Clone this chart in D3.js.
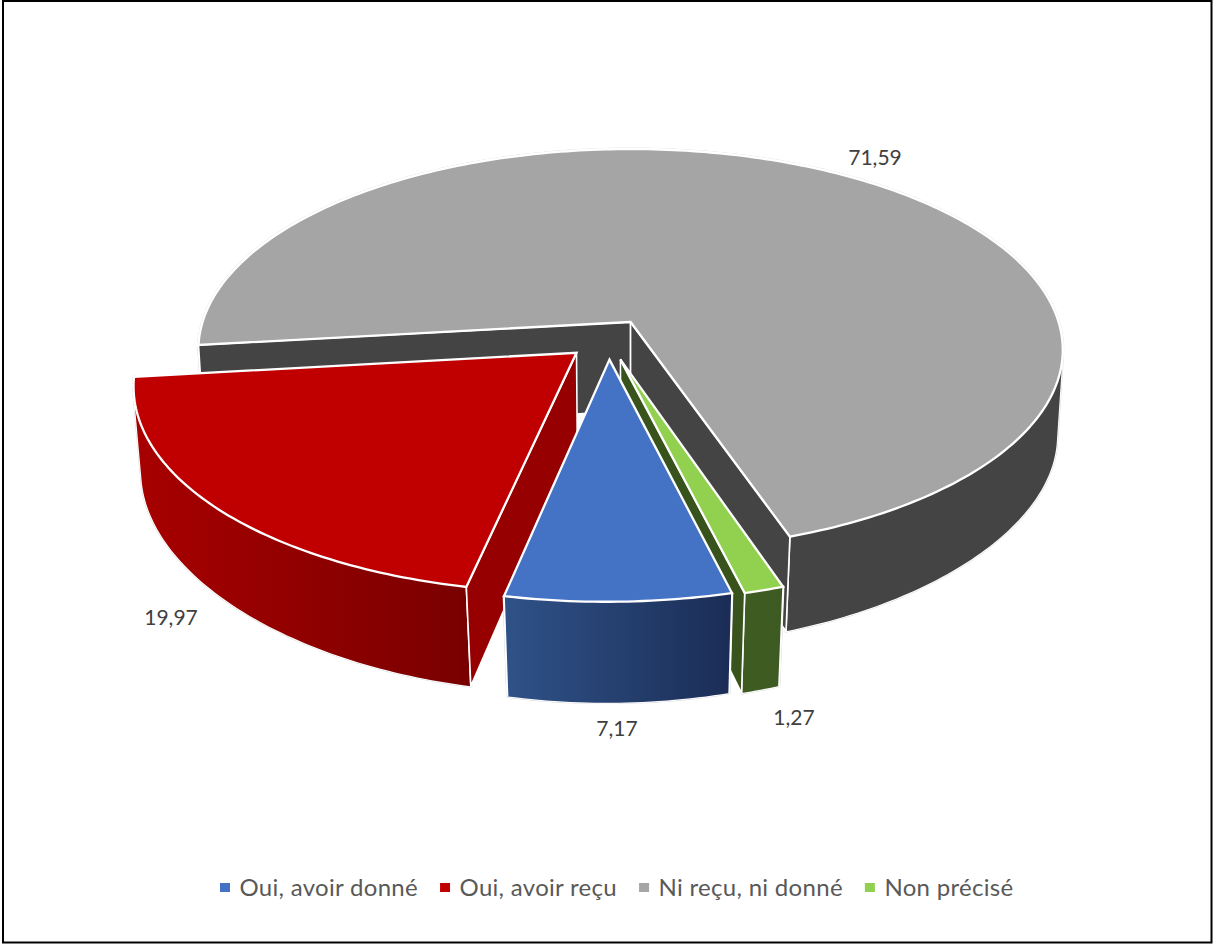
<!DOCTYPE html>
<html><head><meta charset="utf-8">
<script src="https://cdnjs.cloudflare.com/ajax/libs/d3/7.8.5/d3.min.js"></script>
<style>html,body{margin:0;padding:0;background:#fff}svg{display:block}text{font-family:Lato,"Open Sans",sans-serif}</style>
</head><body><svg id="c" width="1213" height="944"></svg>
<script>
const categories = ["Oui, avoir donné","Oui, avoir reçu","Ni reçu, ni donné","Non précisé"];
const values = [7.17,19.97,71.59,1.27];
const valueLabels = ["7,17","19,97","71,59","1,27"];
const topColors = ["#4472c4","#c00000","#a5a5a5","#92d050"];
const wallFrom = ["#2f5288","#a80000","#444444","#3f5c23"];
const wallTo = ["#1b2d56","#790000","#444444","#3c5a21"];
const cutColors = ["#2f5288","#960000","#444444","#38531c"];
const explodeU = [-0.049,-0.1246,-0.001,-0.024];
const explodeV = [0.186,0.153,0,0.186];
const labelX = [617,171,875,794];
const labelY = [736,625,165,725];
const drawOrder = [2,1,3,0];
const cutFaces = [[],["start"],["start","end"],["end"]];
const wallEdges = [["start","end"],["start"],["start","end"],["start","end"]];

const firstAngle = 165.7*Math.PI/180;
const svg = d3.select("#c");
const pie = d3.pie().sort(null).startAngle(firstAngle).endAngle(firstAngle+2*Math.PI);
const arcs = pie(values);
function topP(u,v){const d=1-0.139*v;return [631+428*u/d,322+197*v/d];}
function botP(u,v){const dx=1-0.127*v,dy=1-0.185*v;return [631+423*u/dx,411+192*v/dy];}
const line = d3.line().x(p=>p[0]).y(p=>p[1]);
const defs = svg.append("defs");

svg.append("rect").attr("x",3).attr("y",1).attr("width",1208.5).attr("height",941.5)
  .attr("fill","#fff").attr("stroke","#000").attr("stroke-width",2);

function samples(a,i,proj){
  const n=Math.max(8,Math.ceil((a.endAngle-a.startAngle)*60));
  return d3.range(n+1).map(k=>{
    const t=a.startAngle+(a.endAngle-a.startAngle)*k/n;
    return proj(Math.sin(t)+explodeU[i],-Math.cos(t)+explodeV[i]);
  });
}
function edge(t,i,proj){return proj(Math.sin(t)+explodeU[i],-Math.cos(t)+explodeV[i]);}

drawOrder.forEach(i=>{
  const a=arcs[i];
  const top=samples(a,i,topP), bot=samples(a,i,botP);
  const apT=topP(explodeU[i],explodeV[i]), apB=botP(explodeU[i],explodeV[i]);
  const xs=top.concat(bot).map(p=>p[0]);
  const gid="w"+i;
  const g=defs.append("linearGradient").attr("id",gid).attr("gradientUnits","userSpaceOnUse")
    .attr("x1",d3.min(xs)).attr("x2",d3.max(xs)).attr("y1",0).attr("y2",0);
  g.append("stop").attr("offset",0).attr("stop-color",wallFrom[i]);
  g.append("stop").attr("offset",1).attr("stop-color",wallTo[i]);
  // wall = union of quads joining the top and bottom rims, all wound the same way
  let wall="";
  for(let k=0;k<top.length-1;k++){
    let q=[top[k],top[k+1],bot[k+1],bot[k]];
    if(d3.polygonArea(q)<0) q=q.reverse();
    wall+=line(q)+"Z";
  }
  svg.append("path").attr("d",wall).attr("fill","none").attr("stroke","#d6d7dc").attr("stroke-width",2.8).attr("stroke-linejoin","round");
  svg.append("path").attr("d",wall).attr("fill","none").attr("stroke","#fff").attr("stroke-width",2).attr("stroke-linejoin","round");
  svg.append("path").attr("d",wall).attr("fill",`url(#${gid})`).attr("fill-rule","nonzero");
  wallEdges[i].forEach(side=>{
    const k=side==="start"?0:top.length-1;
    svg.append("path").attr("d",line([top[k],bot[k]])).attr("fill","none").attr("stroke","#fff").attr("stroke-width",1.6);
  });
  cutFaces[i].forEach(side=>{
    const t=side==="start"?a.startAngle:a.endAngle;
    const q=[apT,edge(t,i,topP),edge(t,i,botP),apB];
    svg.append("path").attr("d",line(q)+"Z").attr("fill",cutColors[i]).attr("stroke","#fff").attr("stroke-width",1.6).attr("stroke-linejoin","round");
  });
  svg.append("path").attr("d",line([apT].concat(top))+"Z").attr("fill",topColors[i])
    .attr("stroke","#fff").attr("stroke-width",2.3).attr("stroke-linejoin","miter");
});

svg.selectAll("text.v").data(valueLabels).join("text").attr("class","v")
  .attr("x",(d,i)=>labelX[i]).attr("y",(d,i)=>labelY[i]).attr("text-anchor","middle")
  .attr("font-size",21).attr("fill","#404040").text(d=>d);

let lx=220;
categories.forEach((c,i)=>{
  svg.append("rect").attr("x",lx).attr("y",883).attr("width",10).attr("height",9).attr("fill",topColors[i]);
  const t=svg.append("text").attr("x",lx+19.5).attr("y",896).attr("font-size",24).attr("letter-spacing",0.3).attr("fill","#595959").text(c);
  lx+=19.5+t.node().getComputedTextLength()+22;
});
</script></body></html>
